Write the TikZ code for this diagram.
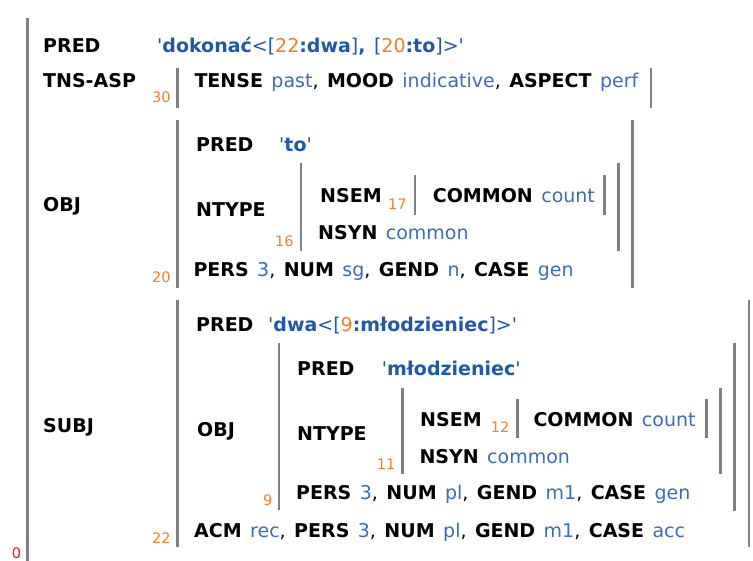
\documentclass[tikz,border=0pt]{standalone}
\usepackage{fontspec}
\setmainfont{DejaVu Sans}[WordSpace=1.4]
\definecolor{valblue}{HTML}{3A6DB5}
\definecolor{predblue}{HTML}{1F58A8}
\definecolor{idxor}{HTML}{F07F2A}
\definecolor{barg}{HTML}{808080}
\definecolor{zred}{HTML}{E8151B}
\newcommand\fsA[1]{\textbf{#1}}
\newcommand\fsV[1]{\textcolor{valblue}{#1}}
\newcommand\fsP[1]{\textcolor{predblue}{\bfseries #1}}
\newcommand\fsL[1]{\textcolor{predblue}{#1}}
\newcommand\fsI[1]{\textcolor{idxor}{#1}}
\newcommand\fsQ{\textcolor{predblue}{\textquotesingle}}
\tikzset{
  t/.style={anchor=base west, inner sep=0pt, font=\fontsize{19}{22}\selectfont},
  idx/.style={anchor=base west, inner sep=0pt, font=\fontsize{14.5}{16}\selectfont, text=idxor},
  bar/.style={draw=barg, line width=2.6pt},
}
\begin{document}
\begin{tikzpicture}[x=1pt,y=-1pt]
\useasboundingbox (0,0) rectangle (753,561);
% outer f-structure
\draw[bar] (27.7,18) -- (27.7,561);
\node[idx, text=zred] (i0) at (11.7,558.5) {0};
\node[t] (pred0) at (43,53) {\fsA{PRED}};
\node[t] (pred0v) at (157,53) {\fsQ\fsP{dokonać}\fsL{<[}\fsI{22}\fsP{:dwa}\fsL{]}\fsP{,} \fsL{[}\fsI{20}\fsP{:to}\fsL{]>}\fsQ};
% TNS-ASP
\node[t] (tns) at (43,88) {\fsA{TNS-ASP}};
\node[idx] (i30) at (152,103) {30};
\draw[bar] (177.5,68) -- (177.5,108);
\draw[bar] (651,68) -- (651,108);
\node[t] (tnsv) at (194.3,88) {\fsA{TENSE} \fsV{past}, \fsA{MOOD} \fsV{indicative}, \fsA{ASPECT} \fsV{perf}};
% OBJ
\node[t] (obj) at (43,212) {\fsA{OBJ}};
\node[idx] (i20) at (152,283) {20};
\draw[bar] (177.5,120) -- (177.5,288);
\draw[bar] (632.3,120) -- (632.3,288);
\node[t] (objpred) at (196,152) {\fsA{PRED}};
\node[t] (objpredv) at (279,152) {\fsQ\fsP{to}\fsQ};
\node[t] (objnt) at (196,217) {\fsA{NTYPE}};
\node[idx] (i16) at (275,247) {16};
\draw[bar] (301,163) -- (301,251);
\draw[bar] (618.3,163) -- (618.3,251);
\node[t] (objnsem) at (320,203) {\fsA{NSEM}};
\node[idx] (i17) at (388,210) {17};
\draw[bar] (415,175) -- (415,215);
\draw[bar] (604.3,175) -- (604.3,215);
\node[t] (objcom) at (432.7,203) {\fsA{COMMON} \fsV{count}};
\node[t] (objnsyn) at (318,240) {\fsA{NSYN} \fsV{common}};
\node[t] (objagr) at (193.3,277) {\fsA{PERS} \fsV{3}, \fsA{NUM} \fsV{sg}, \fsA{GEND} \fsV{n}, \fsA{CASE} \fsV{gen}};
% SUBJ
\node[t] (subj) at (43,433) {\fsA{SUBJ}};
\node[idx] (i22) at (152,543) {22};
\draw[bar] (177.5,300) -- (177.5,547);
\draw[bar] (749,300) -- (749,547);
\node[t] (spred) at (196,332) {\fsA{PRED}};
\node[t] (spredv) at (268,332) {\fsQ\fsP{dwa}\fsL{<[}\fsI{9}\fsP{:młodzieniec}\fsL{]>}\fsQ};
\node[t] (sobj) at (197,437) {\fsA{OBJ}};
\node[idx] (i9) at (263,505) {9};
\draw[bar] (279,343) -- (279,510);
\draw[bar] (734.3,343) -- (734.3,511);
\node[t] (sopred) at (297,376) {\fsA{PRED}};
\node[t] (sopredv) at (381.7,376) {\fsQ\fsP{młodzieniec}\fsQ};
\node[t] (sont) at (297,441) {\fsA{NTYPE}};
\node[idx] (i11) at (376.7,470) {11};
\draw[bar] (402.3,388) -- (402.3,474);
\draw[bar] (720.7,388) -- (720.7,474);
\node[t] (sonsem) at (420,427) {\fsA{NSEM}};
\node[idx] (i12) at (490.7,433) {12};
\draw[bar] (517.3,399) -- (517.3,438);
\draw[bar] (706.7,399) -- (706.7,438);
\node[t] (socom) at (533.3,427) {\fsA{COMMON} \fsV{count}};
\node[t] (sonsyn) at (419.3,464) {\fsA{NSYN} \fsV{common}};
\node[t] (soagr) at (296,500) {\fsA{PERS} \fsV{3}, \fsA{NUM} \fsV{pl}, \fsA{GEND} \fsV{m1}, \fsA{CASE} \fsV{gen}};
\node[t] (sagr) at (194,537) {\fsA{ACM} \fsV{rec}, \fsA{PERS} \fsV{3}, \fsA{NUM} \fsV{pl}, \fsA{GEND} \fsV{m1}, \fsA{CASE} \fsV{acc}};
\end{tikzpicture}
\end{document}
